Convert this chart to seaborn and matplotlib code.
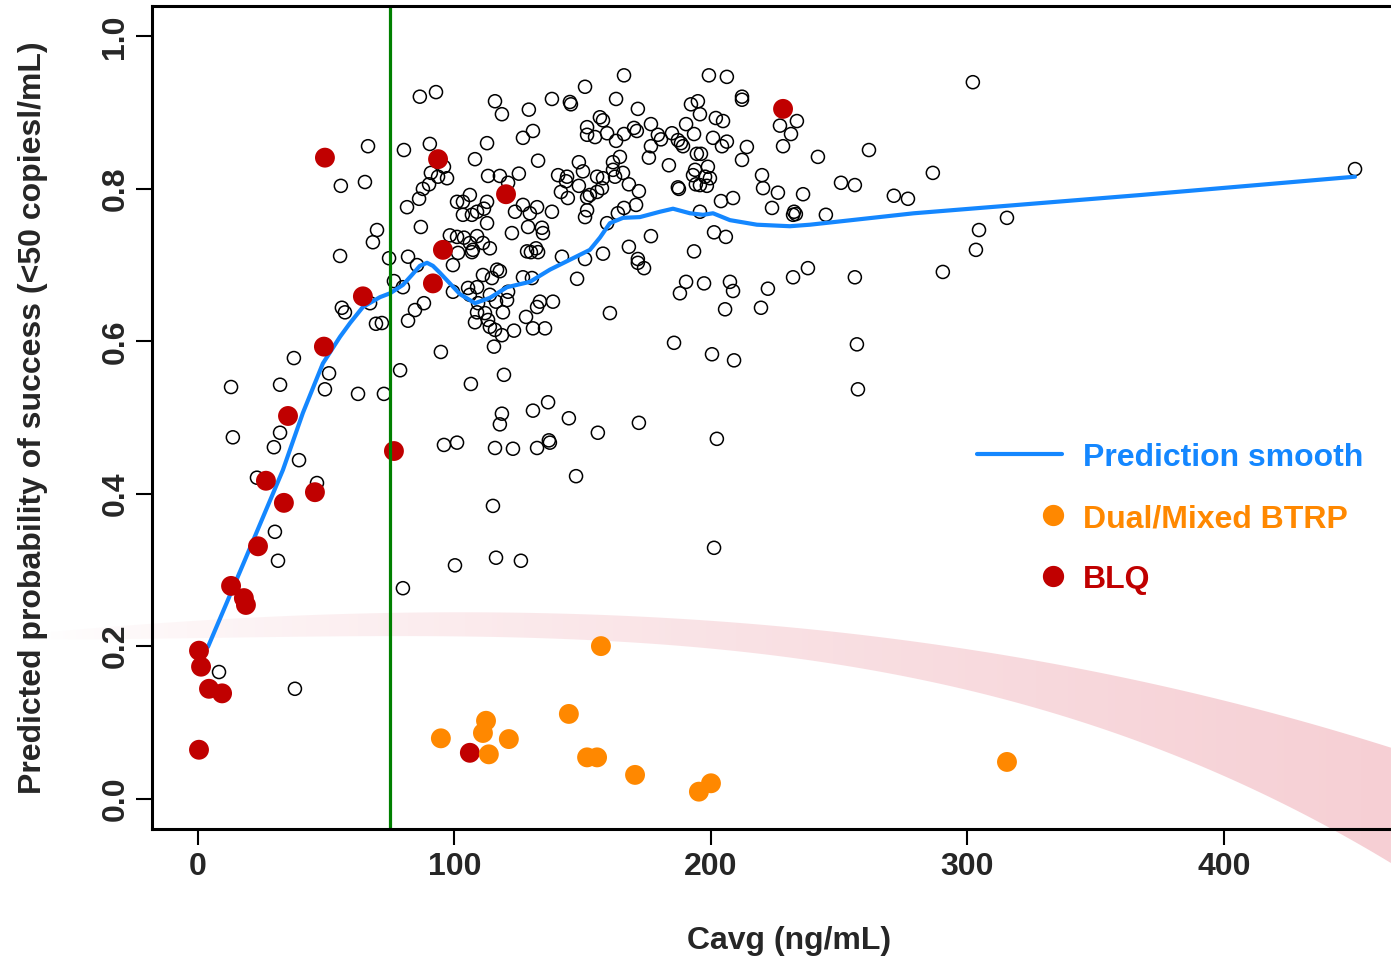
import numpy as np
import matplotlib
matplotlib.use("Agg")
import matplotlib.pyplot as plt
from matplotlib.patches import Polygon
from matplotlib.lines import Line2D
import seaborn as sns

# ---------------- data ----------------
open_x = [66.3, 80.3, 55.7, 65.1, 81.5, 69.8, 68.2, 55.4, 74.5, 81.9, 76.4, 79.9, 67.1, 56.1, 57.3, 69.4, 71.7, 81.9,
          37.4, 51.1, 49.5, 12.9, 32.0, 62.4, 72.5, 78.8, 13.6, 32.0, 29.6, 39.4, 23.0, 46.4, 30.0, 31.2, 79.9, 8.2, 37.8,
          86.5, 92.8, 115.8, 118.5, 129.0, 138.0, 145.0, 145.4, 150.9, 156.7, 151.7, 151.7, 154.8,
          90.4, 112.7, 130.6, 126.7, 108.0, 132.6, 148.5, 150.1, 155.6, 95.9, 90.8, 93.6, 97.1, 90.1, 87.7, 86.2,
          113.1, 117.7, 125.1, 120.9, 140.4, 143.9, 143.5, 148.5, 141.5, 144.2, 151.7, 155.6, 106.0, 101.0, 103.3,
          112.7, 111.5, 108.8, 103.3, 106.8, 112.7, 126.7, 132.2, 129.4, 123.6, 138.0, 128.7, 134.1, 134.5, 122.4,
          151.7, 150.9, 86.9, 98.2, 101.0, 103.7, 108.8, 106.0, 111.1, 107.2, 113.8, 101.4, 128.3, 131.8, 129.8,
          132.6, 141.9, 106.8, 85.4, 99.4, 150.9, 111.1, 114.6, 116.6, 117.7, 126.7, 130.2, 147.8,
          99.4, 105.3, 108.8, 106.0, 113.8, 120.9, 120.5, 88.1, 84.6, 109.2, 116.2, 118.9, 108.8, 111.9, 108.0,
          113.1, 113.8, 115.8, 118.5, 123.2, 115.4, 133.3, 132.2, 138.4, 127.9, 130.6, 135.3, 94.7,
          106.4, 119.3, 136.5, 130.6, 118.5, 117.7, 144.6, 155.9, 95.9, 101.0, 115.8, 122.8, 132.2, 136.8, 137.2,
          147.4, 115.0, 116.2, 125.9, 100.2, 201.2,
          166.1, 199.2, 206.2, 163.0, 171.5, 192.2, 194.9, 195.7, 212.1, 212.1, 233.5, 226.9, 231.2, 228.1, 157.9,
          159.5, 163.0, 166.1, 170.0, 171.1, 176.6, 179.3, 180.5, 176.6, 175.8, 184.8, 187.1, 188.3, 189.1, 190.3,
          193.4, 194.5, 196.1, 200.8, 201.9, 204.7, 204.3, 206.2, 214.0, 212.1, 183.6, 164.5, 161.8, 161.8, 162.6,
          165.7, 157.9, 168.0, 171.9, 152.8, 157.5, 193.8, 198.8, 193.0, 194.1, 197.7, 199.6, 195.7, 198.4, 187.1,
          187.5, 170.8, 166.1, 163.7, 159.5, 195.7, 203.9, 208.6, 219.9, 220.3, 226.1, 223.8, 235.9, 232.4, 233.1,
          232.0, 201.2, 205.8, 176.6, 168.0, 157.9, 171.5, 193.4,
          171.5, 173.9, 190.3, 197.3, 187.9, 207.4, 208.6, 222.2, 232.0, 237.8, 205.5, 219.5, 160.6, 185.6, 200.4,
          209.0, 171.9, 202.3,
          302.1, 451.1, 261.6, 241.7, 250.7, 256.1, 271.3, 276.8, 286.5, 244.8, 315.4, 304.5, 303.3, 256.1, 290.4,
          256.9, 257.3]
open_y = [0.856, 0.851, 0.804, 0.809, 0.776, 0.746, 0.730, 0.712, 0.709, 0.711, 0.679, 0.671, 0.650, 0.644, 0.638, 0.623, 0.624, 0.627,
          0.578, 0.558, 0.537, 0.540, 0.543, 0.531, 0.531, 0.562, 0.474, 0.480, 0.461, 0.444, 0.421, 0.414, 0.350, 0.312, 0.276, 0.166, 0.144,
          0.921, 0.927, 0.915, 0.898, 0.904, 0.918, 0.914, 0.911, 0.934, 0.894, 0.881, 0.871, 0.868,
          0.859, 0.860, 0.876, 0.867, 0.839, 0.837, 0.835, 0.823, 0.816, 0.829, 0.821, 0.816, 0.814, 0.806, 0.800, 0.787,
          0.817, 0.817, 0.820, 0.808, 0.818, 0.816, 0.810, 0.804, 0.796, 0.788, 0.789, 0.796, 0.792, 0.783, 0.783,
          0.783, 0.774, 0.770, 0.766, 0.766, 0.755, 0.779, 0.776, 0.768, 0.770, 0.770, 0.750, 0.749, 0.742, 0.742,
          0.772, 0.763, 0.750, 0.739, 0.737, 0.736, 0.738, 0.729, 0.729, 0.720, 0.722, 0.716, 0.718, 0.722, 0.717,
          0.717, 0.711, 0.717, 0.700, 0.700, 0.708, 0.687, 0.683, 0.694, 0.692, 0.684, 0.683, 0.682,
          0.665, 0.670, 0.671, 0.661, 0.661, 0.665, 0.654, 0.650, 0.641, 0.650, 0.652, 0.638, 0.638, 0.637, 0.625,
          0.628, 0.619, 0.615, 0.608, 0.614, 0.593, 0.652, 0.645, 0.652, 0.632, 0.617, 0.617, 0.586,
          0.544, 0.556, 0.520, 0.509, 0.505, 0.491, 0.499, 0.480, 0.464, 0.467, 0.460, 0.459, 0.460, 0.470, 0.467,
          0.423, 0.384, 0.316, 0.312, 0.306, 0.329,
          0.949, 0.949, 0.947, 0.918, 0.905, 0.911, 0.915, 0.898, 0.921, 0.917, 0.889, 0.883, 0.872, 0.856, 0.890,
          0.873, 0.863, 0.872, 0.880, 0.876, 0.885, 0.871, 0.865, 0.856, 0.841, 0.873, 0.864, 0.860, 0.856, 0.885,
          0.872, 0.846, 0.846, 0.867, 0.893, 0.889, 0.856, 0.862, 0.855, 0.838, 0.831, 0.842, 0.835, 0.825, 0.816,
          0.821, 0.814, 0.806, 0.797, 0.792, 0.801, 0.825, 0.829, 0.818, 0.806, 0.816, 0.814, 0.805, 0.804, 0.802,
          0.800, 0.779, 0.775, 0.768, 0.755, 0.770, 0.784, 0.788, 0.818, 0.801, 0.795, 0.775, 0.793, 0.770, 0.767,
          0.766, 0.743, 0.737, 0.738, 0.724, 0.715, 0.708, 0.718,
          0.703, 0.696, 0.678, 0.676, 0.663, 0.678, 0.666, 0.669, 0.684, 0.696, 0.642, 0.644, 0.637, 0.598, 0.583,
          0.575, 0.493, 0.472,
          0.940, 0.826, 0.851, 0.842, 0.808, 0.805, 0.791, 0.787, 0.821, 0.766, 0.762, 0.746, 0.720, 0.684, 0.691,
          0.596, 0.537]

blq_x = [49.5, 64.3, 49.1, 35.1, 76.4, 26.5, 45.6, 33.5, 23.4, 12.9, 17.9, 18.7, 0.4, 1.2, 4.3, 9.4, 0.4,
         93.6, 120.1, 95.5, 91.6, 228.1, 106.0]
blq_y = [0.841, 0.659, 0.593, 0.502, 0.456, 0.417, 0.402, 0.388, 0.331, 0.279, 0.263, 0.254, 0.194, 0.173, 0.144, 0.138, 0.064,
         0.839, 0.793, 0.720, 0.676, 0.905, 0.060]

dual_x = [157.1, 144.6, 112.3, 111.1, 94.7, 121.2, 113.4, 151.7, 155.6, 170.4, 200.0, 195.3, 315.4]
dual_y = [0.200, 0.111, 0.102, 0.086, 0.079, 0.078, 0.058, 0.054, 0.054, 0.031, 0.020, 0.009, 0.048]

smooth_x = [3.9, 18.3, 33.1, 40.9, 48.7, 55.4, 59.3, 64.3, 71.0, 74.9, 79.9, 83.4, 86.5, 89.3, 91.6, 94.3, 98.2,
            102.1, 108.0, 113.8, 120.5, 129.4, 137.2, 145.0, 152.8, 156.7, 160.6, 165.7, 172.3, 180.1, 185.2,
            191.8, 196.9, 200.8, 207.4, 217.9, 230.8, 238.6, 279.1, 367.6, 451.1]
smooth_y = [0.199, 0.313, 0.431, 0.506, 0.571, 0.606, 0.624, 0.645, 0.658, 0.663, 0.674, 0.687, 0.699, 0.703, 0.699,
            0.690, 0.676, 0.662, 0.650, 0.657, 0.671, 0.678, 0.694, 0.707, 0.720, 0.736, 0.755, 0.762, 0.763, 0.770,
            0.774, 0.768, 0.766, 0.768, 0.759, 0.753, 0.751, 0.753, 0.768, 0.792, 0.816]

threshold_x = 75

# decorative pink band (edges)
band_x = [-61.6, -18.7, 78.8, 202.3, 312.7, 328.3, 390.6, 465.1]
band_top = [0.217, 0.230, 0.243, 0.232, 0.191, 0.182, 0.132, 0.068]
band_bot = [0.207, 0.211, 0.217, 0.188, 0.136, 0.120, 0.041, -0.085]

x_ticks = [0, 100, 200, 300, 400]
y_ticks = [0.0, 0.2, 0.4, 0.6, 0.8, 1.0]
y_tick_labels = ["0.0", "0.2", "0.4", "0.6", "0.8", "1.0"]

legend_labels = ["Prediction smooth", "Dual/Mixed BTRP", "BLQ"]

BLUE = "#1487FF"
ORANGE = "#FF8800"
RED = "#C00000"
GREEN = "#008000"
PINK = (0.968, 0.812, 0.835)

# ---------------- style ----------------
sns.set_style("ticks")
plt.rcParams["font.family"] = ["Liberation Sans", "DejaVu Sans"]
plt.rcParams["font.weight"] = "bold"
FS = 23

W, H = 1391, 961
fig = plt.figure(figsize=(W / 100, H / 100), dpi=100)
ax_left, ax_right, ax_top, ax_bot = 151.8, 1426.6, 6.0, 829.0
ax = fig.add_axes([ax_left / W, (H - ax_bot) / H, (ax_right - ax_left) / W, (ax_bot - ax_top) / H])
ax.set_facecolor("white")

# ---------------- pink band (gradient, unclipped) ----------------
bx = np.linspace(band_x[0], band_x[-1], 300)
ct = np.polyfit(band_x, band_top, 3)
cb = np.polyfit(band_x, band_bot, 3)
tt = np.polyval(ct, bx)
bb = np.polyval(cb, bx)
verts = np.concatenate([np.column_stack([bx, tt]), np.column_stack([bx[::-1], bb[::-1]])])
poly = Polygon(verts, closed=True, facecolor="none", edgecolor="none", transform=ax.transData)
ax.add_patch(poly)
poly.set_clip_on(False)
alpha = np.clip((bx - bx[0]) / (bx[-1] - bx[0]), 0, 1) ** 0.75
img = np.zeros((2, len(bx), 4))
img[..., 0] = PINK[0]
img[..., 1] = PINK[1]
img[..., 2] = PINK[2]
img[..., 3] = alpha[None, :]
im = ax.imshow(img, extent=[bx[0], bx[-1], -0.12, 0.26], origin="lower", aspect="auto",
               interpolation="bilinear", zorder=0.5)
im.set_clip_box(fig.bbox)
im.set_clip_path(poly)

# ---------------- data marks ----------------
sns.scatterplot(x=open_x, y=open_y, ax=ax, s=88, marker="o", facecolor="none",
                edgecolor="black", linewidth=1.1, zorder=3)
sns.lineplot(x=smooth_x, y=smooth_y, ax=ax, color=BLUE, linewidth=3.0, estimator=None, sort=True, zorder=4)
sns.scatterplot(x=blq_x, y=blq_y, ax=ax, s=205, color=RED, edgecolor="none", linewidth=0, zorder=5)
sns.scatterplot(x=dual_x, y=dual_y, ax=ax, s=205, color=ORANGE, edgecolor="none", linewidth=0, zorder=5)
ax.axvline(threshold_x, color=GREEN, linewidth=2.3, zorder=6)

# ---------------- axes ----------------
ax.set_xlim(-18, 479)
ax.set_ylim(-0.04, 1.04)
ax.set_xticks(x_ticks)
ax.set_xticklabels([str(v) for v in x_ticks], fontsize=FS, fontweight="bold")
ax.set_yticks(y_ticks)
ax.set_yticklabels(y_tick_labels, fontsize=FS, fontweight="bold", rotation=90, va="center")
ax.tick_params(axis="both", direction="out", length=11.5, width=1.5, color="black")
ax.tick_params(axis="x", pad=5)
ax.tick_params(axis="y", pad=4)
for sp in ax.spines.values():
    sp.set_linewidth(2.2)
    sp.set_color("black")
    sp.set_zorder(7)

ax.set_xlabel("Cavg (ng/mL)", fontsize=FS, fontweight="bold")
ax.xaxis.set_label_coords(0.5, -(926 - ax_bot) / (ax_bot - ax_top))
ax.xaxis.label.set_va("top")
ax.set_ylabel("Predicted probability of success (<50 copiesl/mL)", fontsize=FS, fontweight="bold")
ax.yaxis.set_label_coords((48 - ax_left) / (ax_right - ax_left), 0.5)


# ---------------- legend (drawn in figure pixels) ----------------
def fx(px):
    return px / W


def fy(py):
    return (H - py) / H


fig.add_artist(Line2D([fx(977), fx(1062)], [fy(454), fy(454)], color=BLUE, linewidth=3.0))
fig.add_artist(Line2D([fx(1053)], [fy(515)], marker="o", markersize=14.3, color=ORANGE, linestyle="none"))
fig.add_artist(Line2D([fx(1053)], [fy(576)], marker="o", markersize=14.3, color=RED, linestyle="none"))
for lab, col, yb in zip(legend_labels, [BLUE, ORANGE, RED], [466, 527, 588]):
    fig.text(fx(1083), fy(yb), lab, color=col, fontsize=FS, fontweight="bold", ha="left", va="baseline")

fig.savefig("out.png", dpi=100)
